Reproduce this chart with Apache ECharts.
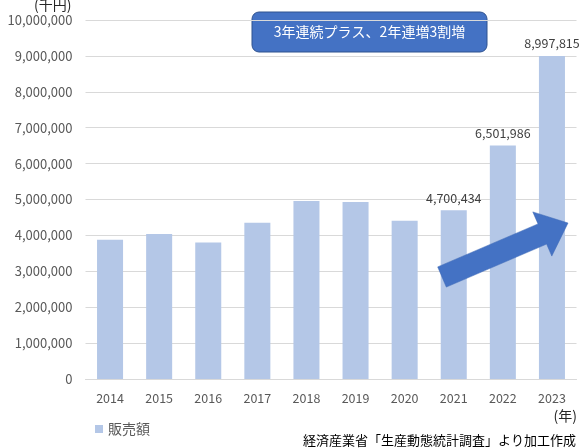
<!DOCTYPE html>
<html><head><meta charset="utf-8">
<script src="https://cdn.jsdelivr.net/npm/echarts@6/dist/echarts.min.js"></script>
<style>html,body{margin:0;padding:0;background:#fff}#c{width:588px;height:448px}</style>
</head><body><div id="c"></div>
<script>
const categories = ['2014','2015','2016','2017','2018','2019','2020','2021','2022','2023'];
const sales = [3880000, 4040000, 3800000, 4350000, 4960000, 4930000, 4410000, 4700434, 6501986, 8997815];
const labeledYears = ['2021','2022','2023'];
const seriesName = '販売額';
const calloutText = '3年連続プラス、2年連増3割増';
const yUnit = '(千円)';
const xUnit = '(年)';
const sourceText = '経済産業省「生産動態統計調査」より加工作成';

const FONT = '"Noto Sans CJK JP", "Noto Sans", sans-serif';
const chart = echarts.init(document.getElementById('c'));
chart.setOption({
  animation: false,
  textStyle: { fontFamily: FONT },
  grid: { left: 85.5, right: 11.5, top: 20, bottom: 69 },
  legend: {
    left: 90, top: 417, itemWidth: 8, itemHeight: 8, itemGap: 3,
    icon: 'rect',
    textStyle: { color: '#595959', fontSize: 14, fontFamily: FONT },
    data: [seriesName]
  },
  xAxis: {
    type: 'category', data: categories,
    axisLine: { lineStyle: { color: '#d9d9d9' } },
    axisTick: { show: false },
    axisLabel: { color: '#595959', fontSize: 12.5, margin: 13, fontFamily: FONT }
  },
  yAxis: {
    type: 'value', min: 0, max: 10000000, interval: 1000000,
    axisLine: { show: false }, axisTick: { show: false },
    splitLine: { lineStyle: { color: '#d9d9d9' } },
    axisLabel: {
      color: '#595959', fontSize: 13, margin: 13, fontFamily: FONT,
      formatter: v => v.toLocaleString('en-US')
    }
  },
  series: [{
    name: seriesName, type: 'bar', data: sales.map((v, i) => ({
      value: v,
      label: { show: labeledYears.includes(categories[i]) }
    })),
    barWidth: '53%',
    itemStyle: { color: '#b4c7e7' },
    label: {
      position: 'top', distance: 6, color: '#404040', fontSize: 12.5, fontFamily: FONT,
      formatter: p => p.value.toLocaleString('en-US')
    }
  }],
  graphic: [
    { type: 'text', left: 34, top: -2, style: { text: yUnit, fill: '#262626', font: '14px ' + FONT } },
    { type: 'text', right: 11, top: 409, style: { text: xUnit, fill: '#262626', font: '14px ' + FONT } },
    { type: 'text', right: 12, top: 434, style: { text: sourceText, fill: '#000', font: '13px ' + FONT } },
    { type: 'rect', shape: { x: 252, y: 12, width: 235, height: 40, r: 7 },
      style: { fill: '#4472c4', stroke: '#2f528f', lineWidth: 1 } },
    { type: 'text', x: 369.5, y: 32, style: { text: calloutText, fill: '#fff', font: '14px ' + FONT, align: 'center', verticalAlign: 'middle' } },
    { type: 'polygon', shape: { points: [[437.7,266.9],[538.0,223.9],[532.8,211.9],[568,223],[551.8,256.1],[546.6,244.1],[446.3,287.1]] },
      style: { fill: '#4472c4', stroke: '#3a66b5', lineWidth: 0.5 }, z: 100 }
  ]
});
</script></body></html>
